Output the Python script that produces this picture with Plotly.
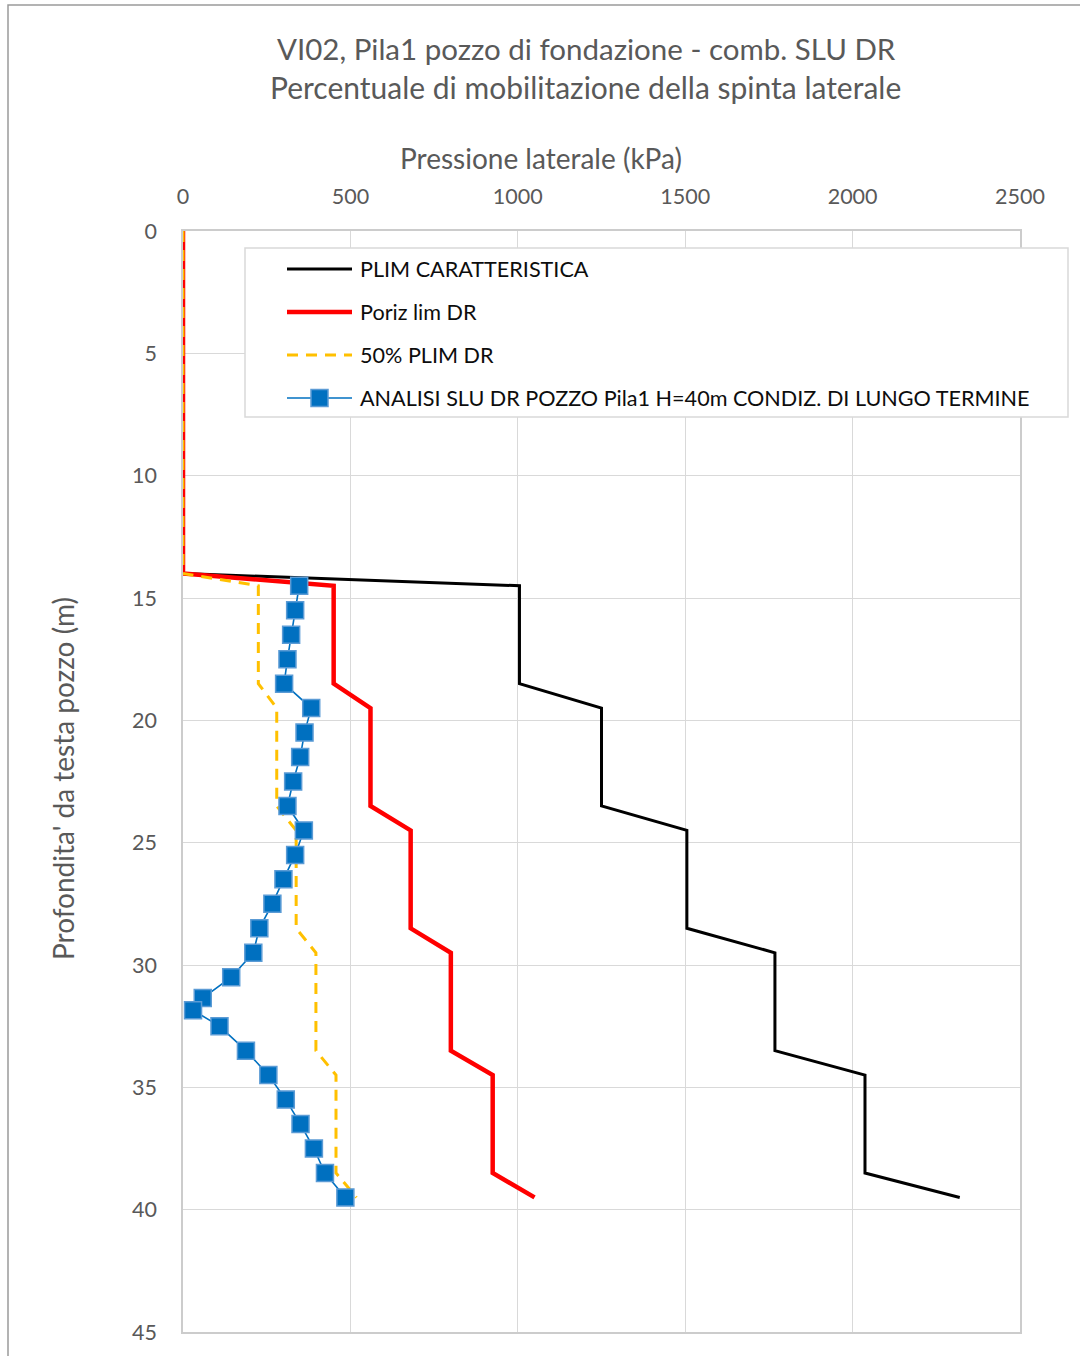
import plotly.graph_objects as go

# ---- data -------------------------------------------------------------
# step profiles (depth in m, pressure in kPa)
depth_lim = [0, 14, 14.5, 18.5, 19.5, 23.5, 24.5, 28.5, 29.5, 33.5, 34.5, 38.5, 39.5]
plim_caratteristica = [0, 0, 1005, 1005, 1250, 1250, 1505, 1505, 1768, 1768, 2037, 2037, 2320]
poriz_lim_dr = [0, 0, 450, 450, 560, 560, 680, 680, 800, 800, 925, 925, 1050]
plim_50_dr = [0, 0, 225, 225, 280, 280, 338, 338, 397, 397, 457, 457, 518]

# analysis results
depth_analisi = [14.5, 15.5, 16.5, 17.5, 18.5, 19.5, 20.5, 21.5, 22.5, 23.5, 24.5,
                 25.5, 26.5, 27.5, 28.5, 29.5, 30.5, 31.35, 31.85, 32.5, 33.5,
                 34.5, 35.5, 36.5, 37.5, 38.5, 39.5]
p_analisi = [347, 335, 323, 312, 302, 383, 363, 350, 329, 312, 361,
             335, 300, 267, 228, 210, 144, 59, 30, 109, 188,
             255, 307, 351, 391, 424, 485]

x_ticks = [0, 500, 1000, 1500, 2000, 2500]
y_ticks = [0, 5, 10, 15, 20, 25, 30, 35, 40, 45]

series_names = [
    "PLIM CARATTERISTICA",
    "Poriz lim DR",
    "50% PLIM DR",
    "ANALISI SLU DR POZZO Pila1 H=40m CONDIZ. DI LUNGO TERMINE",
]

title_1 = "VI02, Pila1 pozzo di fondazione - comb. SLU DR"
title_2 = "Percentuale di mobilitazione della spinta laterale"
x_title = "Pressione laterale (kPa)"
y_title = "Profondita' da testa pozzo (m)"

# ---- styling ----------------------------------------------------------
FONT = "Lato"
W, H = 1080, 1356
L, R, T, B = 183, 60, 231, 24
PW, PH = W - L - R, H - T - B

BLACK = "#000000"
RED = "#FF0000"
GOLD = "#FFC000"
BLUE = "#0070C0"
BLUE_EDGE = "#5B9BD5"
GRID = "#d9d9d9"
TXT = "#595959"


def xp(px):
    return (px - L) / PW


def yp(py):
    return (H - B - py) / PH


fig = go.Figure()

fig.add_trace(go.Scatter(x=plim_caratteristica, y=depth_lim, mode="lines",
                         line=dict(color=BLACK, width=3), name=series_names[0],
                         showlegend=False))
fig.add_trace(go.Scatter(x=poriz_lim_dr, y=depth_lim, mode="lines",
                         line=dict(color=RED, width=4.5), name=series_names[1],
                         showlegend=False))
fig.add_trace(go.Scatter(x=plim_50_dr, y=depth_lim, mode="lines",
                         line=dict(color=GOLD, width=3, dash="11px,8px"),
                         name=series_names[2], showlegend=False))
fig.add_trace(go.Scatter(x=p_analisi, y=depth_analisi, mode="lines+markers",
                         line=dict(color=BLUE, width=1.6),
                         marker=dict(symbol="square", size=17, color=BLUE,
                                     line=dict(color=BLUE_EDGE, width=1.5)),
                         name=series_names[3], showlegend=False))

shapes = []
annotations = []

# outer chart frame
shapes.append(dict(type="rect", xref="paper", yref="paper",
                   x0=xp(8), x1=xp(1200), y0=yp(1400), y1=yp(5),
                   line=dict(color="#9a9a9a", width=1.5), layer="below"))

# legend box with samples
lg_x0, lg_x1, lg_y0, lg_y1 = 245, 1068, 248, 417
shapes.append(dict(type="rect", xref="paper", yref="paper",
                   x0=xp(lg_x0), x1=xp(lg_x1), y0=yp(lg_y1), y1=yp(lg_y0),
                   fillcolor="white", line=dict(color=GRID, width=1.5),
                   layer="above"))
row_y = [269, 312, 355, 398]
sample_styles = [
    dict(color=BLACK, width=3),
    dict(color=RED, width=4.5),
    dict(color=GOLD, width=3, dash="11px,8px"),
    dict(color=BLUE, width=1.6),
]
for name, yy, st in zip(series_names, row_y, sample_styles):
    shapes.append(dict(type="line", xref="paper", yref="paper",
                       x0=xp(287), x1=xp(352), y0=yp(yy), y1=yp(yy),
                       line=st, layer="above"))
    annotations.append(dict(text=name, xref="paper", yref="paper",
                            x=xp(358), y=yp(yy), xanchor="left", yanchor="middle",
                            showarrow=False,
                            font=dict(family=FONT, size=21.6, color="#0d0d0d")))
# square marker sample
shapes.append(dict(type="rect", xref="paper", yref="paper",
                   x0=xp(311), x1=xp(328), y0=yp(406.5), y1=yp(389.5),
                   fillcolor=BLUE, line=dict(color=BLUE_EDGE, width=1.5),
                   layer="above"))

# titles
annotations.append(dict(text=title_1, xref="paper", yref="paper",
                        x=xp(586), y=yp(48), xanchor="center", yanchor="middle",
                        showarrow=False, font=dict(family=FONT, size=29.5, color=TXT)))
annotations.append(dict(text=title_2, xref="paper", yref="paper",
                        x=xp(585), y=yp(87), xanchor="center", yanchor="middle",
                        showarrow=False, font=dict(family=FONT, size=30, color=TXT)))
annotations.append(dict(text=x_title, xref="paper", yref="paper",
                        x=xp(541), y=yp(158), xanchor="center", yanchor="middle",
                        showarrow=False, font=dict(family=FONT, size=28, color=TXT)))
annotations.append(dict(text=y_title, xref="paper", yref="paper",
                        x=xp(63), y=yp(779), xanchor="center", yanchor="middle",
                        textangle=-90, showarrow=False,
                        font=dict(family=FONT, size=28, color=TXT)))

fig.update_layout(
    width=W, height=H,
    margin=dict(l=L, r=R, t=T, b=B, pad=0),
    paper_bgcolor="white", plot_bgcolor="white",
    showlegend=False,
    shapes=shapes, annotations=annotations,
    xaxis=dict(side="top", range=[0, 2500], tickvals=x_ticks,
               showgrid=True, gridcolor=GRID, gridwidth=1.4,
               zeroline=False, showline=True, mirror=True,
               linecolor="#cccccc", linewidth=1.6,
               ticks="", ticklabelstandoff=17,
               tickfont=dict(family=FONT, size=21.5, color=TXT)),
    yaxis=dict(range=[45, 0], tickvals=y_ticks,
               showgrid=True, gridcolor=GRID, gridwidth=1.4,
               zeroline=False, showline=True, mirror=True,
               linecolor="#cccccc", linewidth=1.6,
               ticks="", ticklabelstandoff=20,
               tickfont=dict(family=FONT, size=21.5, color=TXT)),
)

fig.write_html("out.html")
